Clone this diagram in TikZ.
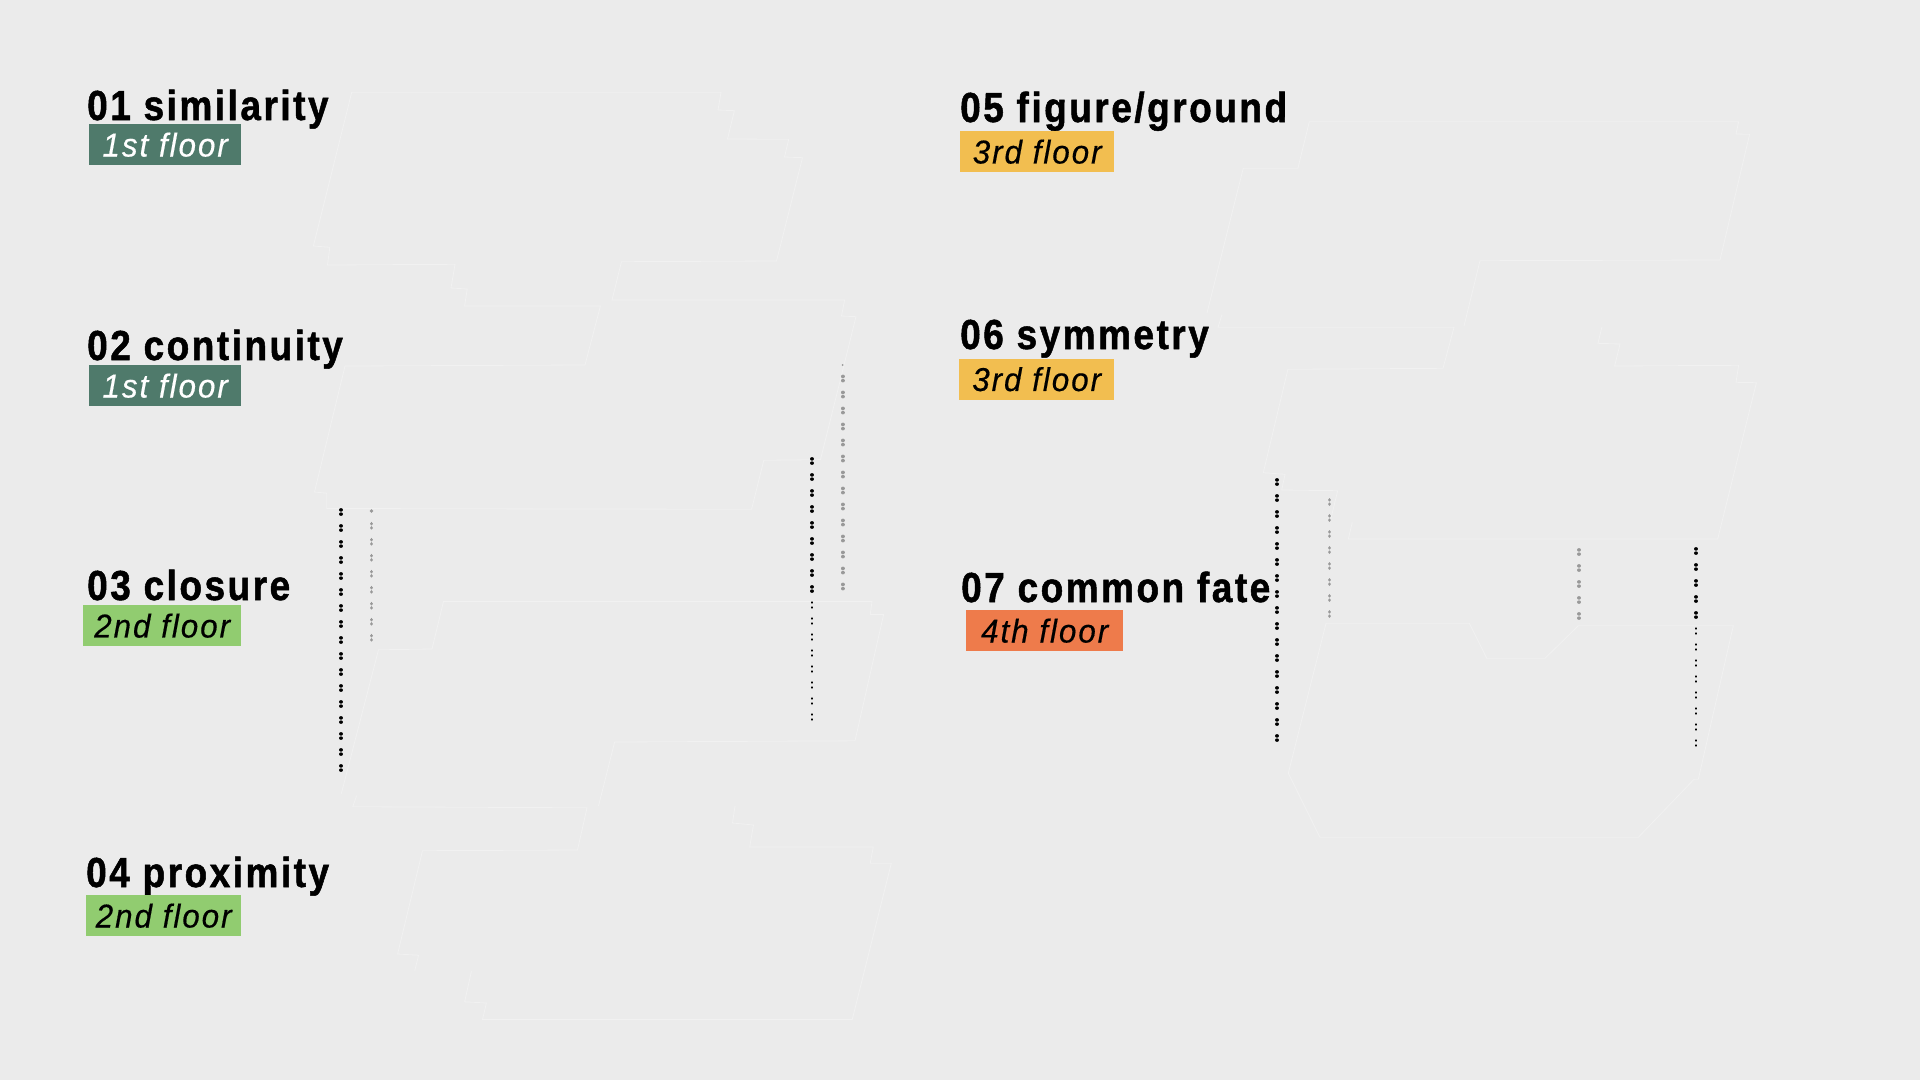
\documentclass[tikz,border=0pt]{standalone}
\usepackage{xcolor}
\usepackage{fontspec}
\setmainfont{Liberation Sans}
\newfontfamily\titlefont[FakeStretch=0.88,LetterSpace=6,BoldFeatures={FakeBold=1.2}]{Liberation Sans}
\newfontfamily\floorfont[FakeStretch=0.95,LetterSpace=6,ItalicFeatures={FakeBold=0.4}]{Liberation Sans}
\definecolor{paper}{HTML}{EBEBEB}
\definecolor{plan}{HTML}{F1F1F1}
\definecolor{floorone}{HTML}{4F7A6B}
\definecolor{floortwo}{HTML}{91CC70}
\definecolor{floorthree}{HTML}{F2BE50}
\definecolor{floorfour}{HTML}{EE7B4B}
\definecolor{dotgray}{HTML}{999999}

\begin{document}
\begin{tikzpicture}[
  x=1pt, y=-1pt,
  title/.style={anchor=base west, inner sep=0pt, font=\titlefont\fontsize{42}{42}\selectfont\bfseries},
  badge/.style={anchor=north west, inner sep=0pt, minimum height=41pt,
                font=\floorfont\fontsize{33}{33}\selectfont\itshape},
  outline/.style={draw=plan, line width=0.8pt, line join=miter},
  bigdots/.style={line width=3.6pt, line cap=round, dash pattern=on 0.01pt off 4.2pt on 0.01pt off 11.78pt},
  smalldots/.style={line width=2.8pt, line cap=round, dash pattern=on 0.01pt off 5pt on 0.01pt off 10.98pt}
]
\fill[paper] (0,0) rectangle (1920,1080);
\useasboundingbox (0,0) rectangle (1920,1080);

% floor plans
\draw[outline] (351.7,92.3) -- (721,92.3) -- (718,110) -- (734.4,110.7) -- (727.5,139)
  -- (788.7,139.3) -- (784.5,157) -- (802.5,157.7) -- (776.5,261) -- (621.5,261.7)
  -- (612,300) -- (844.6,300) -- (841.5,316) -- (856,316.7) -- (820.5,459.6)
  -- (763.8,460.3) -- (751.6,509.3) -- (326.8,508.5) -- (326.8,493.2) -- (314.5,492)
  -- (345,366) -- (585,365) -- (600.4,306) -- (464.6,306) -- (467.2,289) -- (451,288)
  -- (455,264.3) -- (327.5,265) -- (329.8,247.3) -- (313.4,246) -- cycle;
\draw[outline] (735,806) -- (732.5,823) -- (753.5,825) -- (749.7,846.9)
  -- (873.3,846.9) -- (870.2,863.3) -- (891.3,863.3) -- (852.2,1019.5) -- (482.5,1019.5)
  -- (486.4,1003) -- (464.6,1001.8) -- (471.4,971.2)
  (414.8,970.5) -- (418.6,955.2)
  -- (397.6,954) -- (422.5,850.7) -- (577.5,850) -- (587,807.8) -- (352.8,806.7)
  -- (356.6,795.6)
  (341.3,793.7) -- (378.5,649.8) -- (432,649) -- (443.5,601.5) -- (872,601.5)
  -- (870.2,614.6) -- (883.6,614.6) -- (855,740.8) -- (614.6,742) -- (598.5,806);
\draw[outline] (1602,326.7) -- (1597.9,343.3) -- (1620,344)
  -- (1614.6,366) -- (1738.6,365.3) -- (1736,382.3) -- (1756.4,382.7) -- (1717.7,539)
  -- (1348.3,539) -- (1352.3,522.3)
  (1330,522.3) -- (1337.7,490.7) -- (1281.7,490)
  -- (1285,474.3) -- (1263.3,472.7) -- (1287.9,369.3) -- (1443,368.3) -- (1454,327.3)
  -- (1218,327.3) -- (1222,314.5)
  (1207,313) -- (1243.2,168.3) -- (1297.9,168.3) -- (1309.3,121.7) -- (1738.6,121.7)
  -- (1736,134) -- (1749.6,134.3) -- (1720,260) -- (1480,260.7) -- (1464,326);
\draw[outline] (1326,623.3) -- (1469.3,623.3) -- (1486.7,658.3) -- (1545,658.3) -- (1578.3,625.7)
  -- (1733.3,625.7) -- (1698.3,779.3) -- (1694,779.3) -- (1638.3,837.3) -- (1320,837.3)
  -- (1288.3,773.3) -- cycle;

% stairs
\draw[bigdots] (341,509.9) -- (341,771);
\draw[bigdots, draw=dotgray] (371.5,523.7) -- (371.5,641);
\fill[dotgray] (371.5,511) circle (1.9pt);
\draw[bigdots] (812,458.9) -- (812,592);
\draw[smalldots] (812,602.5) -- (812,721);
\draw[bigdots, draw=dotgray] (842.7,376.4) -- (842.7,590);
\fill[dotgray] (842.7,365) circle (1pt);
\draw[bigdots] (1277,479.9) -- (1277,741);
\draw[bigdots, draw=dotgray] (1329.3,499.9) -- (1329.3,617);
\draw[bigdots, draw=dotgray] (1579,549.9) -- (1579,619);
\draw[bigdots] (1696,548.9) -- (1696,618);
\draw[smalldots] (1696,628.5) -- (1696,747);

% labels
\node[title] (sim) at (87,120) {01 similarity};
\node[title] (con) at (87,360) {02 continuity};
\node[title] (clo) at (87,600) {03 closure};
\node[title] (pro) at (86,887) {04 proximity};
\node[title] (fig) at (960,122) {05 figure/ground};
\node[title] (sym) at (960,349) {06 symmetry};
\node[title] (fate) at (961,602) {07 common fate};

\node[badge, fill=floorone, text=white, minimum width=152pt] (simf) at (89,124) {1st floor};
\node[badge, fill=floorone, text=white, minimum width=152pt] (conf) at (89,365) {1st floor};
\node[badge, fill=floortwo, minimum width=158pt] (clof) at (83,605) {2nd floor};
\node[badge, fill=floortwo, minimum width=155pt] (prof) at (86,895) {2nd floor};
\node[badge, fill=floorthree, minimum width=154pt] (figf) at (960,131) {3rd floor};
\node[badge, fill=floorthree, minimum width=155pt] (symf) at (959,358.5) {3rd floor};
\node[badge, fill=floorfour, minimum width=157pt] (fatef) at (966,610) {4th floor};
\end{tikzpicture}
\end{document}
